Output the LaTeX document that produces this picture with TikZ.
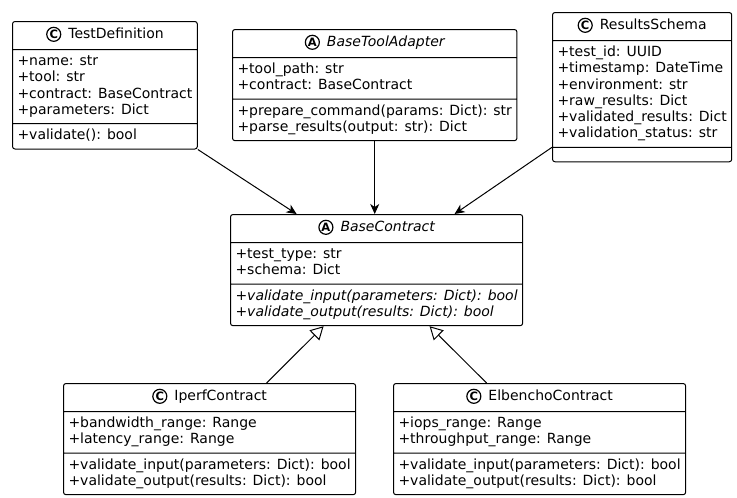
\documentclass[tikz,border=0pt]{standalone}
\usepackage{fontspec}
\setmainfont{DejaVu Sans}[ItalicFont={DejaVu Sans Oblique},BoldItalicFont={DejaVu Sans Bold Oblique}]
\usepackage{tikz}
\usetikzlibrary{shapes.multipart}
\usetikzlibrary{arrows.meta}
\tikzset{>=Stealth}
\tikzset{
  umlclass/.style={draw, line width=1pt, rounded corners=2.5pt,
    rectangle split, rectangle split parts=3,
    rectangle split part align={center,left,left},
    rectangle split empty part height=0pt, rectangle split empty part depth=0pt,
    inner xsep=5pt, inner ysep=4pt, anchor=north west,
    font=\fontsize{14}{16.3}\selectfont},
  classicon/.style={draw, circle, line width=1.2pt, inner sep=0pt, minimum size=14pt,
    font=\bfseries\fontsize{11.5}{11.5}\selectfont},
  uses/.style={line width=1pt, -{Stealth[length=10pt,width=9pt,inset=3pt]}},
  extends/.style={line width=1pt, -{Triangle[open,length=13pt,width=14pt]}}
}
\newcommand{\classhead}[2]{\rule[-6.5pt]{0pt}{19pt}\tikz[baseline=(icon.base)]\node[classicon] (icon) {#1};\hspace{7pt}#2}
\newcommand{\members}[1]{\begin{tabular}{@{}l@{}}#1\end{tabular}}

\begin{document}
\begin{tikzpicture}[x=1pt,y=-1pt]
\useasboundingbox (0,0) rectangle (737,498);

% Top row
\node[umlclass] (testdef) at (12,21)
  {\classhead{C}{TestDefinition}
   \nodepart{two}\members{+name: str\\+tool: str\\+contract: BaseContract\\+parameters: Dict}
   \nodepart{three}\members{+validate(): bool}};

\node[umlclass] (adapter) at (232,29)
  {\classhead{A}{\itshape BaseToolAdapter}
   \nodepart{two}\members{+tool\_path: str\\+contract: BaseContract}
   \nodepart{three}\members{+prepare\_command(params: Dict): str\\+parse\_results(output: str): Dict}};

\node[umlclass] (results) at (552,12)
  {\classhead{C}{ResultsSchema}
   \nodepart{two}\members{+test\_id: UUID\\+timestamp: DateTime\\+environment: str\\+raw\_results: Dict\\+validated\_results: Dict\\+validation\_status: str}};

% Contract
\node[umlclass] (base) at (230,214)
  {\classhead{A}{\itshape BaseContract}
   \nodepart{two}\members{+test\_type: str\\+schema: Dict}
   \nodepart{three}\itshape\members{+validate\_input(parameters: Dict): bool\\+validate\_output(results: Dict): bool}};

% Tools
\node[umlclass] (iperf) at (63,383)
  {\classhead{C}{IperfContract}
   \nodepart{two}\members{+bandwidth\_range: Range\\+latency\_range: Range}
   \nodepart{three}\members{+validate\_input(parameters: Dict): bool\\+validate\_output(results: Dict): bool}};

\node[umlclass] (elbencho) at (393,383)
  {\classhead{C}{ElbenchoContract}
   \nodepart{two}\members{+iops\_range: Range\\+throughput\_range: Range}
   \nodepart{three}\members{+validate\_input(parameters: Dict): bool\\+validate\_output(results: Dict): bool}};

% Uses
\draw[uses] (testdef.south east) -- ([xshift=-80pt]base.north);
\draw[uses] (adapter.south) -- (adapter.south |- base.north);
\draw[uses] (results.two split west) -- ([xshift=78pt]base.north);

% Inheritance
\draw[extends] ([xshift=57pt]iperf.north) -- ([xshift=-53pt]base.south);
\draw[extends] ([xshift=-53pt]elbencho.north) -- ([xshift=53pt]base.south);

\end{tikzpicture}
\end{document}
